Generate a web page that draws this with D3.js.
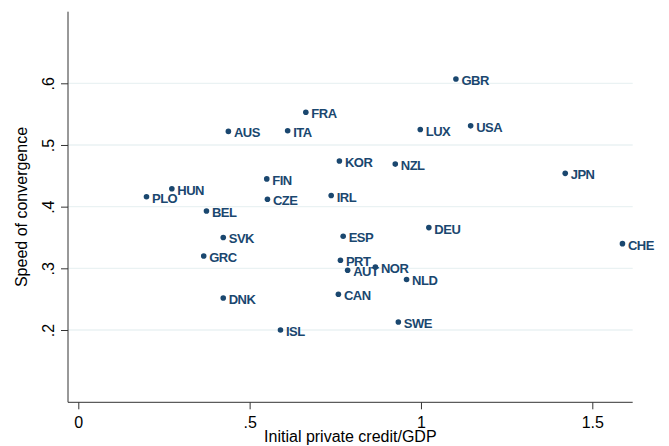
<!DOCTYPE html>
<html>
<head>
<meta charset="utf-8">
<script src="https://cdn.jsdelivr.net/npm/d3@7"></script>
<style>
  html, body { margin: 0; padding: 0; background: #fff; }
  svg { display: block; font-family: "Liberation Sans", Arial, Helvetica, sans-serif; }
</style>
</head>
<body>
<svg id="chart" width="669" height="446"></svg>
<script>
// Country codes
const countries = ["GBR","FRA","AUS","ITA","LUX","USA","KOR","NZL","JPN","FIN",
  "HUN","PLO","CZE","IRL","BEL","DEU","ESP","SVK","CHE","GRC",
  "PRT","AUT","NOR","NLD","DNK","CAN","SWE","ISL"];
// Initial private credit / GDP
const credit = [1.102,0.664,0.438,0.611,0.998,1.145,0.762,0.925,1.421,0.550,
  0.273,0.199,0.552,0.738,0.374,1.023,0.773,0.423,1.588,0.366,
  0.765,0.786,0.867,0.958,0.423,0.759,0.934,0.590];
// Speed of convergence
const speed = [0.607,0.553,0.522,0.523,0.525,0.531,0.474,0.469,0.454,0.445,
  0.429,0.416,0.412,0.418,0.393,0.366,0.352,0.350,0.340,0.320,
  0.313,0.297,0.302,0.282,0.252,0.258,0.213,0.200];

const xTicks = [0, 0.5, 1, 1.5];
const yTicks = [0.2, 0.3, 0.4, 0.5, 0.6];
const xTitle = "Initial private credit/GDP";
const yTitle = "Speed of convergence";

const fmt = v => v === 0 ? "0" : String(v).replace(/^0\./, ".");

const svg = d3.select("#chart");
const plotL = 68, plotR = 632.7, plotT = 11.7, plotB = 402.3;

const x = d3.scaleLinear().domain([0, 1.5]).range([78.3, 592.3]);
const y = d3.scaleLinear().domain([0.2, 0.6]).range([330, 83.3]);

const navy = "#1a476f";

// horizontal gridlines
svg.append("g").selectAll("line").data(yTicks).join("line")
  .attr("x1", plotL).attr("x2", plotR)
  .attr("y1", d => y(d)).attr("y2", d => y(d))
  .attr("stroke", "#eaf2f3").attr("stroke-width", 1.3);

// y axis
const yAxis = svg.append("g")
  .attr("transform", `translate(${plotL},0)`)
  .call(d3.axisLeft(y).tickValues(yTicks).tickFormat(fmt).tickSize(7).tickPadding(0));
yAxis.select(".domain").attr("d", `M0,${plotT}V${plotB}`).attr("stroke", "#333");
yAxis.selectAll(".tick line").attr("stroke", "#333");
yAxis.selectAll(".tick text")
  .attr("x", null).attr("dy", null)
  .attr("transform", "translate(-14,0) rotate(-90)")
  .attr("text-anchor", "middle")
  .attr("font-size", 16).attr("fill", "#000");

// x axis
const xAxis = svg.append("g")
  .attr("transform", `translate(0,${plotB})`)
  .call(d3.axisBottom(x).tickValues(xTicks).tickFormat(fmt).tickSize(7).tickPadding(0));
xAxis.select(".domain").attr("d", `M${plotL},0H${plotR}`).attr("stroke", "#333");
xAxis.selectAll(".tick line").attr("stroke", "#333");
xAxis.selectAll(".tick text")
  .attr("y", 26).attr("dy", null)
  .attr("font-size", 16).attr("fill", "#000");

// axis titles
svg.append("text")
  .attr("x", (plotL + plotR) / 2).attr("y", 442)
  .attr("text-anchor", "middle").attr("font-size", 16).attr("fill", "#000")
  .text(xTitle);
svg.append("text")
  .attr("transform", `translate(27,${(plotT + plotB) / 2}) rotate(-90)`)
  .attr("text-anchor", "middle").attr("font-size", 16).attr("fill", "#000")
  .text(yTitle);

// points with country labels
const pts = countries.map((c, i) => ({ c, cx: credit[i], sp: speed[i] }));
const g = svg.append("g");
g.selectAll("circle").data(pts).join("circle")
  .attr("cx", d => x(d.cx)).attr("cy", d => y(d.sp))
  .attr("r", 2.8).attr("fill", navy);
g.selectAll("text").data(pts).join("text")
  .attr("x", d => x(d.cx) + 5.5).attr("y", d => y(d.sp) + 6)
  .attr("font-size", 13).attr("font-weight", "bold")
  .attr("letter-spacing", "-0.5px").attr("fill", navy)
  .text(d => d.c);
</script>
</body>
</html>
